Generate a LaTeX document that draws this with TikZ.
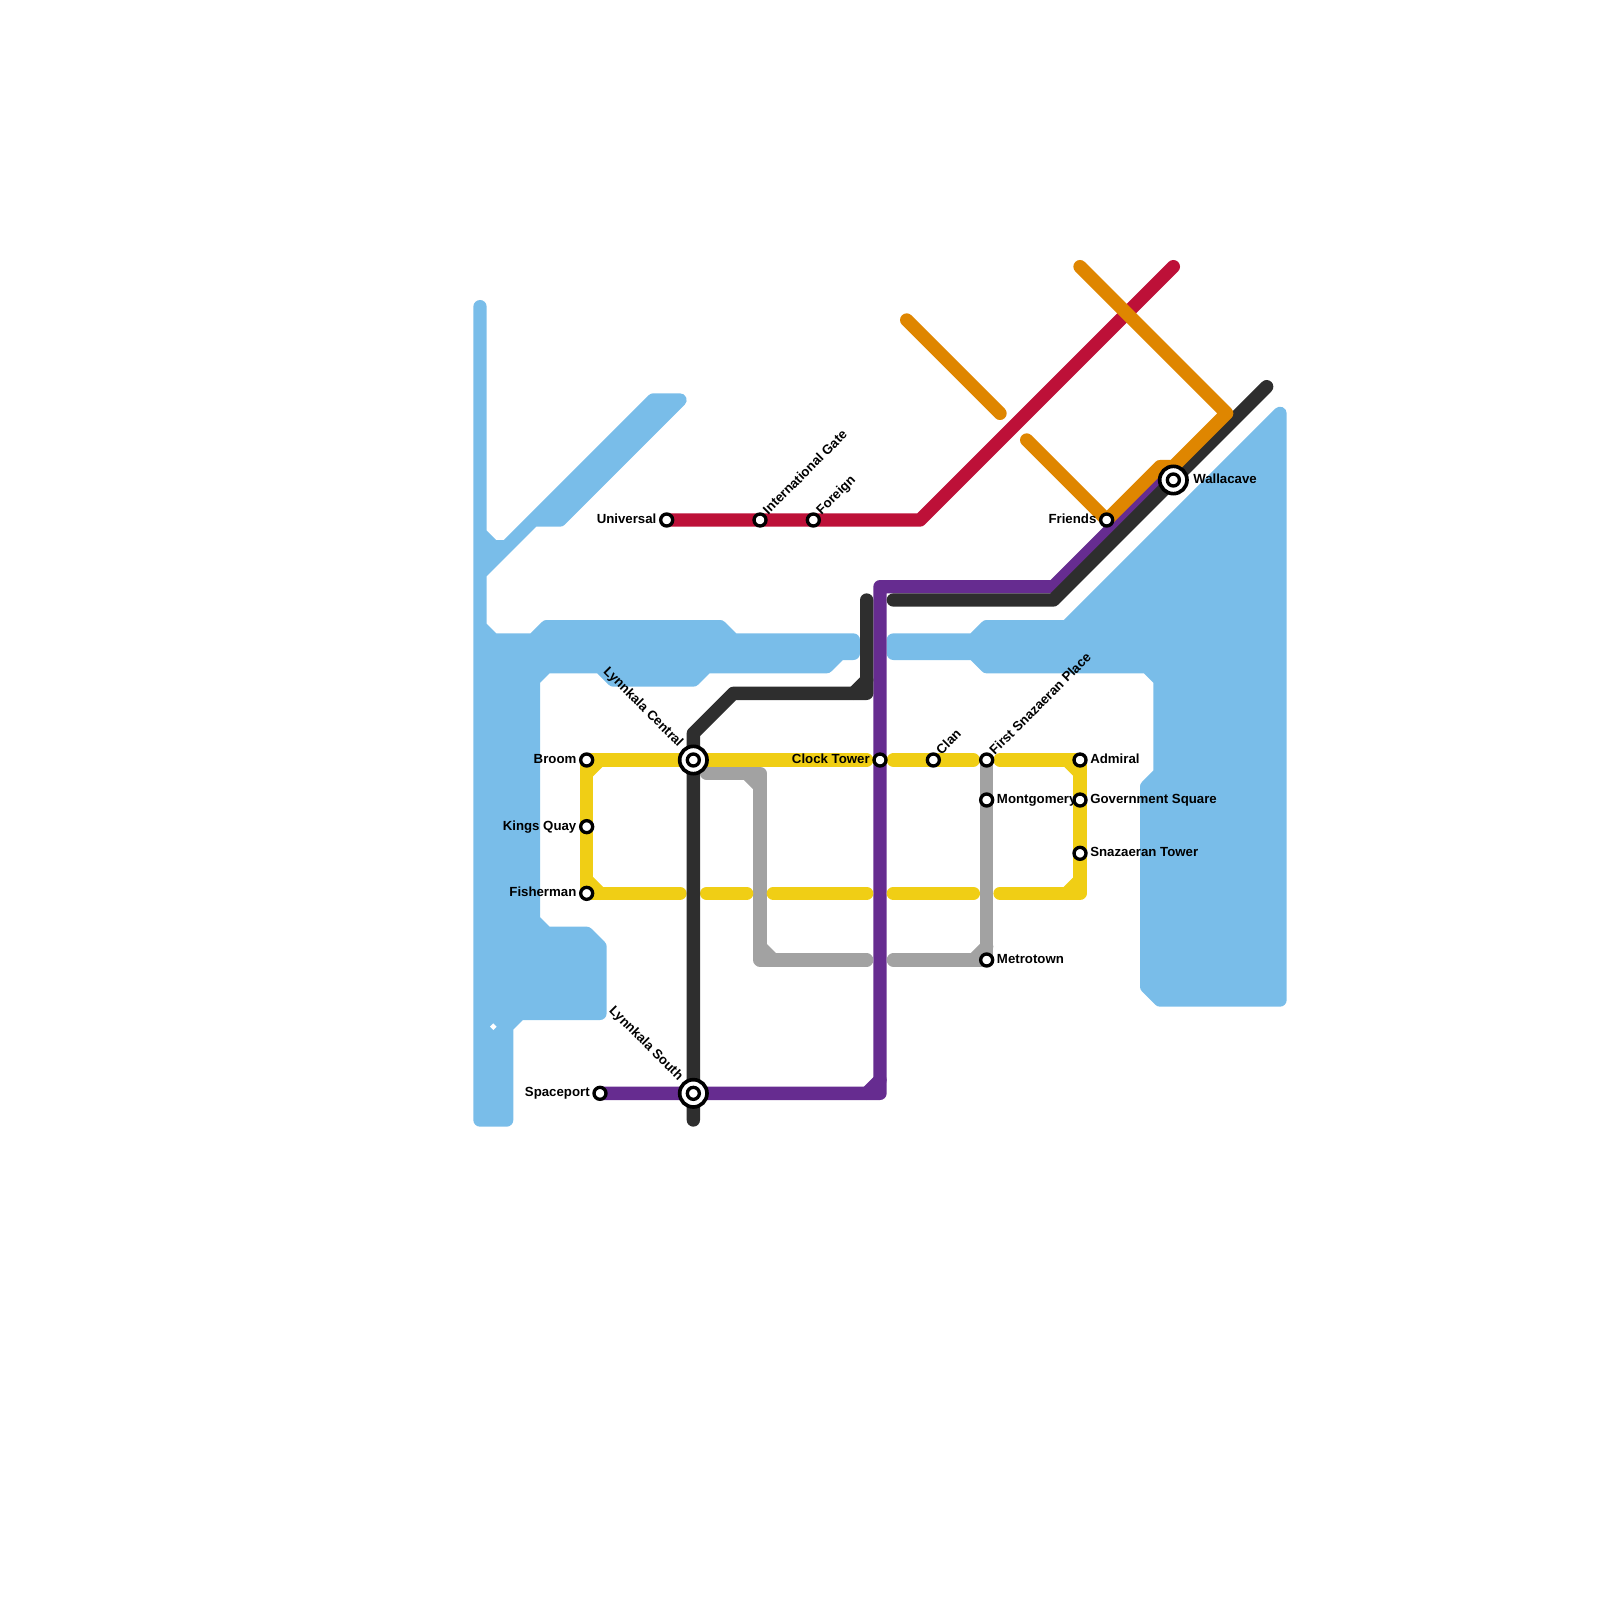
\documentclass[tikz,border=0pt]{standalone}
\usepackage{fontspec}
\setmainfont{Liberation Sans}
\usetikzlibrary{
    backgrounds
}
\definecolor{skyblue}{HTML}{79BDE9}
\definecolor{linered}{HTML}{BD1038}
\definecolor{lineorange}{HTML}{DF8600}
\definecolor{linepurple}{HTML}{662C90}
\definecolor{lineblack}{HTML}{2E2E2E}
\definecolor{linegrey}{HTML}{A2A2A2}
\definecolor{lineyellow}{HTML}{F0CE15}
\tikzset{
    water/.style = {
        fill = skyblue,
        draw = skyblue,
        line width = 0.2cm,
        line join = round,
        line cap = round
    },
    track/.style = {
        draw = #1,
        line width = 0.2cm,
        line join = round,
        line cap = round
    },
    stop/.style = {
        circle,
        draw = black,
        fill = white,
        inner sep = 0pt,
        outer sep = 0pt,
        minimum size = 0.18cm,
        line width = 0.05cm
    },
    hub/.style = {
        stop,
        minimum size = 0.41cm,
        line width = 0.055cm
    },
    lbl/.style = {
        inner sep = 0pt,
        font = \bfseries\fontsize{5.65}{6.8}\selectfont
    },
    lblw/.style = {lbl, anchor = base east, xshift = -4.2pt, yshift = -1.5pt},
    lble/.style = {lbl, anchor = base west, xshift = 4.2pt, yshift = -1.5pt},
    lblne/.style = {lbl, anchor = base west, xshift = 3.4pt, yshift = 1.9pt, rotate = 45},
    lblnw/.style = {lbl, anchor = base east, xshift = -6.4pt, yshift = 5.2pt, rotate = -45}
}
\begin{document}
\begin{tikzpicture}[x = 0.2cm, y = -0.2cm]
    \useasboundingbox (0,0) rectangle (120,120);

    % stations
    \node[stop] (universal) at (50,39) {};
    \node[stop] (intlgate) at (57,39) {};
    \node[stop] (foreign) at (61,39) {};
    \node[stop] (friends) at (83,39) {};
    \node[hub] (wallacave) at (88,36) {};
    \node[stop] (wallacaveIn) at (88,36) {};
    \node[stop] (broom) at (44,57) {};
    \node[stop] (kingsquay) at (44,62) {};
    \node[stop] (fisherman) at (44,67) {};
    \node[hub] (central) at (52,57) {};
    \node[stop] (centralIn) at (52,57) {};
    \node[stop] (clocktower) at (66,57) {};
    \node[stop] (clan) at (70,57) {};
    \node[stop] (firstsnaz) at (74,57) {};
    \node[stop] (montgomery) at (74,60) {};
    \node[stop] (metrotown) at (74,72) {};
    \node[stop] (admiral) at (81,57) {};
    \node[stop] (govsquare) at (81,60) {};
    \node[stop] (snaztower) at (81,64) {};
    \node[stop] (spaceport) at (45,82) {};
    \node[hub] (south) at (52,82) {};
    \node[stop] (southIn) at (52,82) {};

    % labels
    \node[lblw] (universalText) at (universal.center) {Universal};
    \node[lblne] (intlgateText) at (intlgate.center) {International Gate};
    \node[lblne] (foreignText) at (foreign.center) {Foreign};
    \node[lblw] (friendsText) at (friends.center) {Friends};
    \node[lble, xshift = 4.1pt] (wallacaveText) at (wallacave.center) {Wallacave};
    \node[lblw] (broomText) at (broom.center) {Broom};
    \node[lblw] (kingsquayText) at (kingsquay.center) {Kings Quay};
    \node[lblw] (fishermanText) at (fisherman.center) {Fisherman};
    \node[lblnw] (centralText) at (central.center) {Lynnkala Central};
    \node[lblw] (clocktowerText) at (clocktower.center) {Clock Tower};
    \node[lblne] (clanText) at (clan.center) {Clan};
    \node[lblne] (firstsnazText) at (firstsnaz.center) {First Snazaeran Place};
    \node[lble] (montgomeryText) at (montgomery.center) {Montgomery};
    \node[lble] (metrotownText) at (metrotown.center) {Metrotown};
    \node[lble] (admiralText) at (admiral.center) {Admiral};
    \node[lble] (govsquareText) at (govsquare.center) {Government Square};
    \node[lble] (snaztowerText) at (snaztower.center) {Snazaeran Tower};
    \node[lblw] (spaceportText) at (spaceport.center) {Spaceport};
    \node[lblnw] (southText) at (south.center) {Lynnkala South};

    % bends and free ends
    \coordinate (redBend) at (69,39);
    \coordinate (redEnd) at (88,20);
    \coordinate (purpleA) at (66,82);
    \coordinate (purpleB) at (66,44);
    \coordinate (purpleC) at (79,44);
    \coordinate (purpleD) at (87,36);
    \coordinate (purpleE) at (65,82);
    \coordinate (purpleF) at (66,81);
    \coordinate (greyA) at (53,58);
    \coordinate (greyB) at (57,58);
    \coordinate (greyC) at (57,72);
    \coordinate (greyD) at (65,72);
    \coordinate (greyE) at (67,72);
    \coordinate (greyF) at (56,58);
    \coordinate (greyG) at (57,59);
    \coordinate (greyH) at (57,71);
    \coordinate (greyI) at (58,72);
    \coordinate (greyJ) at (73,72);
    \coordinate (greyK) at (74,71);
    \coordinate (topA) at (65,57);
    \coordinate (topB) at (67,57);
    \coordinate (topC) at (73,57);
    \coordinate (topD) at (75,57);
    \coordinate (topE) at (45,57);
    \coordinate (topF) at (44,58);
    \coordinate (topG) at (80,57);
    \coordinate (topH) at (81,58);
    \coordinate (lowA) at (51,67);
    \coordinate (lowB) at (53,67);
    \coordinate (lowC) at (56,67);
    \coordinate (lowD) at (58,67);
    \coordinate (lowE) at (65,67);
    \coordinate (lowF) at (67,67);
    \coordinate (lowG) at (73,67);
    \coordinate (lowH) at (75,67);
    \coordinate (lowI) at (81,67);
    \coordinate (lowJ) at (44,66);
    \coordinate (lowK) at (45,67);
    \coordinate (lowL) at (81,66);
    \coordinate (lowM) at (80,67);
    \coordinate (blackA) at (67,45);
    \coordinate (blackB) at (79,45);
    \coordinate (blackC) at (95,29);
    \coordinate (blackD) at (65,45);
    \coordinate (blackE) at (65,52);
    \coordinate (blackF) at (55,52);
    \coordinate (blackG) at (52,55);
    \coordinate (blackH) at (52,84);
    \coordinate (blackI) at (64,52);
    \coordinate (blackJ) at (65,51);
    \coordinate (orangeA) at (68,24);
    \coordinate (orangeB) at (75,31);
    \coordinate (orangeC) at (81,20);
    \coordinate (orangeD) at (92,31);
    \coordinate (orangeE) at (88,35);
    \coordinate (orangeF) at (87,35);
    \coordinate (orangeG) at (77,33);

    \begin{scope}[on background layer]
        % water
        \path[water] (36,23) -- (36,40) -- (37,41) -- (38,41) -- (49,30) -- (51,30)
            -- (42,39) -- (40,39) -- (36,43) -- (36,47) -- (37,48) -- (40,48)
            -- (41,47) -- (54,47) -- (55,48) -- (64,48) -- (64,49) -- (63,49)
            -- (62,50) -- (53,50) -- (52,51) -- (46,51) -- (45,50) -- (41,50)
            -- (40,51) -- (40,69) -- (41,70) -- (44,70) -- (45,71) -- (45,76)
            -- (39,76) -- (38,77) -- (38,84) -- (36,84) -- cycle;
        \fill[white] (36.75,77) -- (37,76.75) -- (37.25,77) -- (37,77.25) -- cycle;
        \path[water] (96,31) -- (96,75) -- (87,75) -- (86,74) -- (86,59) -- (87,58)
            -- (87,51) -- (86,50) -- (74,50) -- (73,49) -- (67,49) -- (67,48)
            -- (73,48) -- (74,47) -- (80,47) -- cycle;

        % lines
        \draw[track = linered] (universal.center) -- (redBend) -- (redEnd);
        \draw[track = linepurple] (spaceport.center) -- (purpleA) -- (purpleB) -- (purpleC) -- (purpleD) -- (wallacave.center);
        \draw[track = linepurple] (purpleE) -- (purpleF);
        \draw[track = linegrey] (greyA) -- (greyB) -- (greyC) -- (greyD);
        \draw[track = linegrey] (greyF) -- (greyG);
        \draw[track = linegrey] (greyH) -- (greyI);
        \draw[track = linegrey] (greyE) -- (metrotown.center) -- (firstsnaz.center);
        \draw[track = linegrey] (greyJ) -- (greyK);
        \draw[track = lineyellow] (topA) -- (broom.center) -- (fisherman.center) -- (lowA);
        \draw[track = lineyellow] (topE) -- (topF);
        \draw[track = lineyellow] (lowJ) -- (lowK);
        \draw[track = lineyellow] (lowB) -- (lowC);
        \draw[track = lineyellow] (lowD) -- (lowE);
        \draw[track = lineyellow] (lowF) -- (lowG);
        \draw[track = lineyellow] (lowH) -- (lowI) -- (admiral.center) -- (topD);
        \draw[track = lineyellow] (topG) -- (topH);
        \draw[track = lineyellow] (lowL) -- (lowM);
        \draw[track = lineyellow] (topB) -- (topC);
        \draw[track = lineblack] (blackA) -- (blackB) -- (blackC);
        \draw[track = lineblack] (blackD) -- (blackE) -- (blackF) -- (blackG) -- (blackH);
        \draw[track = lineblack] (blackI) -- (blackJ);
        \draw[track = lineorange] (orangeA) -- (orangeB);
        \draw[track = lineorange] (orangeC) -- (orangeD) -- (orangeE) -- (orangeF) -- (friends.center) -- (orangeG);
    \end{scope}
\end{tikzpicture}
\end{document}
